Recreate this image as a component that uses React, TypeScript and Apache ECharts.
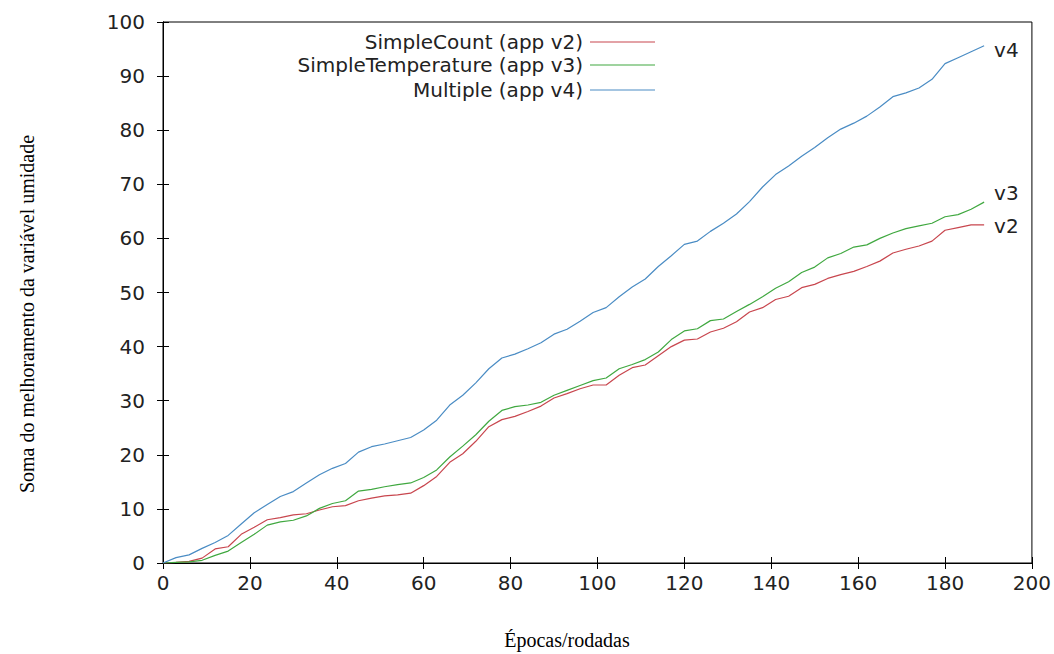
import React, { useEffect, useRef } from "react";
import * as echarts from "echarts";

const epochs = [0,3,6,9,12,15,18,21,24,27,30,33,36,39,42,45,48,51,54,57,60,63,66,69,72,75,78,81,84,87,90,93,96,99,102,105,108,111,114,117,120,123,126,129,132,135,138,141,144,147,150,153,156,159,162,165,168,171,174,177,180,183,186,189];

const simpleCount = [0,0.1,0.3,0.9,2.6,3.0,5.3,6.6,8.0,8.4,8.9,9.1,9.8,10.4,10.6,11.5,12.0,12.4,12.6,12.9,14.3,16.0,18.6,20.2,22.5,25.2,26.5,27.1,28.0,29.0,30.5,31.3,32.2,32.9,32.9,34.7,36.1,36.6,38.3,40.0,41.2,41.4,42.7,43.4,44.6,46.4,47.2,48.7,49.3,50.9,51.5,52.6,53.3,53.9,54.8,55.8,57.3,58.0,58.6,59.5,61.5,62.0,62.5,62.5];

const simpleTemperature = [0,0.1,0.2,0.5,1.4,2.2,3.8,5.3,7.0,7.6,7.9,8.7,10.1,11.0,11.5,13.3,13.6,14.1,14.5,14.8,15.8,17.2,19.6,21.6,23.7,26.2,28.2,28.9,29.2,29.7,31.0,31.9,32.8,33.7,34.2,35.9,36.7,37.6,39.0,41.3,42.9,43.3,44.8,45.1,46.5,47.8,49.2,50.8,52.0,53.7,54.7,56.4,57.2,58.4,58.8,60.0,61.0,61.8,62.3,62.8,64.0,64.4,65.4,66.7];

const multiple = [0,1.0,1.5,2.7,3.8,5.1,7.2,9.3,10.8,12.3,13.2,14.8,16.3,17.5,18.4,20.5,21.5,22.0,22.6,23.2,24.6,26.4,29.2,31.0,33.3,35.9,37.9,38.6,39.6,40.7,42.3,43.2,44.7,46.3,47.2,49.2,51.0,52.5,54.8,56.8,58.9,59.5,61.3,62.8,64.5,66.8,69.5,71.8,73.4,75.2,76.8,78.6,80.2,81.3,82.6,84.3,86.2,86.9,87.8,89.4,92.3,93.4,94.5,95.6];

const seriesNames = ["SimpleCount (app v2)", "SimpleTemperature (app v3)", "Multiple (app v4)"];
const endNames = ["v2", "v3", "v4"];
const colors = ["#c8464e", "#40a840", "#4a8cc4"];
const xTitle = "Épocas/rodadas";
const yTitle = "Soma do melhoramento da variável umidade";

const tickFont = "'DejaVu Sans', sans-serif";
const serifFont = "'Liberation Serif', 'Times New Roman', serif";

export default function App() {
  const ref = useRef<HTMLDivElement>(null);
  useEffect(() => {
    if (!ref.current) return;
    const chart = echarts.init(ref.current, null, { renderer: "svg" });
    const allData = [simpleCount, simpleTemperature, multiple];
    const endOffsets = [[2, 1], [2, -9], [2, 4]];
    const legendY = [42, 65, 90];
    const axisCommon = {
      type: "value" as const,
      axisLine: { show: true, lineStyle: { color: "#000", width: 1 } },
      axisTick: { show: true, inside: true, length: 6, lineStyle: { color: "#000", width: 1 } },
      splitLine: { show: false },
    };
    chart.setOption({
      animation: false,
      backgroundColor: "#fff",
      grid: { left: 163, right: 22, top: 22, bottom: 91, show: true, borderColor: "#000", borderWidth: 1 },
      xAxis: [
        {
          ...axisCommon,
          position: "bottom",
          min: 0, max: 200, interval: 20,
          axisLabel: { color: "#222", fontSize: 20, fontFamily: tickFont, margin: 10 },
        },
        {
          ...axisCommon,
          position: "top",
          min: 0, max: 200, interval: 20,
          axisLabel: { show: false },
        },
      ],
      yAxis: [
        {
          ...axisCommon,
          position: "left",
          min: 0, max: 100, interval: 10,
          axisLabel: { color: "#222", fontSize: 20, fontFamily: tickFont, margin: 18 },
        },
        {
          ...axisCommon,
          position: "right",
          min: 0, max: 100, interval: 10,
          axisLabel: { show: false },
        },
      ],
      series: allData.map((d, i) => ({
        name: seriesNames[i],
        type: "line",
        xAxisIndex: 0,
        yAxisIndex: 0,
        data: epochs.map((x, j) => [x, d[j]]),
        showSymbol: false,
        symbol: "none",
        lineStyle: { color: colors[i], width: 1.2 },
        itemStyle: { color: colors[i] },
        endLabel: {
          show: true,
          formatter: endNames[i],
          color: "#222",
          fontSize: 20,
          fontFamily: tickFont,
          offset: endOffsets[i],
        },
      })),
      graphic: [
        ...seriesNames.map((n, i) => ({
          type: "text",
          x: 583,
          y: legendY[i],
          style: {
            text: n,
            fill: "#222",
            font: `20px ${tickFont}`,
            textAlign: "right",
            textVerticalAlign: "middle",
          },
        })),
        ...seriesNames.map((n, i) => ({
          type: "line",
          shape: { x1: 590, y1: legendY[i], x2: 655, y2: legendY[i] },
          style: { stroke: colors[i], lineWidth: 1.2 },
        })),
        {
          type: "text",
          x: 567,
          y: 640,
          style: {
            text: xTitle,
            fill: "#000",
            font: `20px ${serifFont}`,
            textAlign: "center",
            textVerticalAlign: "middle",
          },
        },
        {
          type: "text",
          x: 27,
          y: 314,
          rotation: Math.PI / 2,
          style: {
            text: yTitle,
            fill: "#000",
            font: `20px ${serifFont}`,
            textAlign: "center",
            textVerticalAlign: "middle",
          },
        },
      ],
    });
    return () => chart.dispose();
  }, []);
  return <div ref={ref} style={{ width: 1054, height: 654, position: "absolute", left: 0, top: 0 }} />;
}
